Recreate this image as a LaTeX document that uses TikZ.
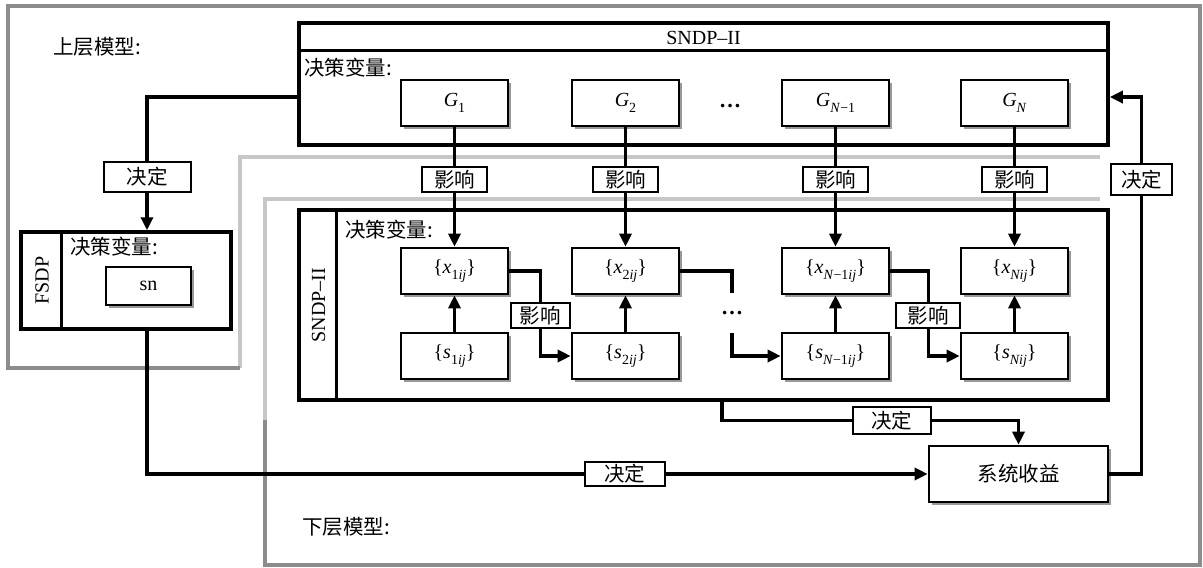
\documentclass[tikz,border=0pt]{standalone}
\usepackage{fontspec}
\setmainfont{Liberation Serif}
\newfontfamily\cjk{Noto Sans CJK SC}
\usetikzlibrary{arrows.meta,shadows}
\newcommand\myfs{\fontsize{20.5}{23}\selectfont}
\newcommand\mylat{\fontsize{20}{23}\selectfont}
\newcommand\mysub[1]{\raisebox{-0.3em}{\fontsize{14}{14}\selectfont #1}}
\begin{document}
\begin{tikzpicture}[x=1pt,y=-1pt,
  frame/.style={draw=black, line width=3.5pt, inner sep=0pt},
  inbox/.style={draw=black, line width=2.6pt, fill=white, inner sep=0pt,
    minimum width=107pt, minimum height=46pt, font=\mylat,
    drop shadow={shadow xshift=3pt,shadow yshift=-3pt,fill=black,opacity=0.4}},
  lbl/.style={draw=black, line width=2pt, fill=white, inner xsep=7pt, inner ysep=2pt,
    minimum width=65pt, minimum height=25pt, font=\cjk\myfs},
  txt/.style={font=\cjk\myfs, inner sep=0pt},
  dotsty/.style={font=\fontsize{22}{24}\selectfont\bfseries, inner sep=0pt},
  conn/.style={line width=3.3pt},
  arr/.style={line width=3.3pt, -{Triangle[length=13pt,width=12pt]}},
  gout/.style={draw=black!45, line width=4pt},
  gin/.style={draw=black!22, line width=4pt}
]
\useasboundingbox (0,0) rectangle (1203,568);

% gray model frames
\draw[gin] (240,368) -- (240,157) -- (1100,157);
\draw[gin] (265,420) -- (265,199) -- (1100,199);
\draw[gout] (240,368) -- (8,368) -- (8,6) -- (1200,6) -- (1200,565) -- (265,565) -- (265,420);

\node[txt, anchor=west] (upper) at (53,47) {上层模型:};
\node[txt, anchor=west] (lower) at (302,527) {下层模型:};

% top SNDP-II box
\node[frame, minimum width=809pt, minimum height=122pt] (top) at (703.5,84) {};
\draw[line width=3.5pt] ([yshift=-29pt]top.north west) -- ([yshift=-29pt]top.north east);
\node[font=\mylat] (toptitle) at (703.5,38) {SNDP–II};
\node[txt, anchor=west] (topvar) at (304,68) {决策变量:};

% lower SNDP-II box
\node[frame, minimum width=809pt, minimum height=190pt] (low) at (703.5,305) {};
\draw[line width=3.5pt] ([xshift=39pt]low.north west) -- ([xshift=39pt]low.south west);
\node[rotate=90, font=\mylat] (lowtitle) at (318.5,305) {SNDP–II};
\node[txt, anchor=west] (lowvar) at (345,230) {决策变量:};

% FSDP box
\node[frame, minimum width=210pt, minimum height=97pt] (fsdp) at (126,280.5) {};
\draw[line width=3.5pt] ([xshift=42pt]fsdp.north west) -- ([xshift=42pt]fsdp.south west);
\node[rotate=90, font=\mylat] (fsdptitle) at (42,280.5) {FSDP};
\node[txt, anchor=west] (fsdpvar) at (70,247) {决策变量:};
\node[inbox, minimum width=85pt, minimum height=38pt] (sn) at (148.5,286) {sn};

% G boxes
\node[inbox] (G1) at (454.5,103) {\textit{G}\mysub{1}};
\node[inbox] (G2) at (625.5,103) {\textit{G}\mysub{2}};
\node[dotsty] (gdots) at (730,106) {…};
\node[inbox] (GN1) at (835.5,103) {\textit{G}\mysub{\textit{N}−1}};
\node[inbox] (GN) at (1014.5,103) {\textit{G}\mysub{\textit{N}}};

% x boxes
\node[inbox] (x1) at (454.5,271) {\{\textit{x}\mysub{1\textit{ij}}\}};
\node[inbox] (x2) at (625.5,271) {\{\textit{x}\mysub{2\textit{ij}}\}};
\node[inbox] (xN1) at (835.5,271) {\{\textit{x}\mysub{\textit{N}−1\textit{ij}}\}};
\node[inbox] (xN) at (1014.5,271) {\{\textit{x}\mysub{\textit{Nij}}\}};

% s boxes
\node[inbox] (s1) at (454.5,356) {\{\textit{s}\mysub{1\textit{ij}}\}};
\node[inbox] (s2) at (625.5,356) {\{\textit{s}\mysub{2\textit{ij}}\}};
\node[inbox] (sN1) at (835.5,356) {\{\textit{s}\mysub{\textit{N}−1\textit{ij}}\}};
\node[inbox] (sN) at (1014.5,356) {\{\textit{s}\mysub{\textit{Nij}}\}};

% system gain
\node[inbox, minimum width=179pt, minimum height=56pt, font=\cjk\myfs] (sys) at (1018.5,474) {系统收益};

% G -> x
\foreach \a/\b in {G1/x1, G2/x2, GN1/xN1, GN/xN}
  \draw[arr] (\a) -- node[lbl, pos=0.44] {影响} (\b);

% s -> x
\foreach \a/\b in {s1/x1, s2/x2, sN1/xN1, sN/xN}
  \draw[arr] (\a) -- (\b);

% chains
\draw[arr] (x1.east) -- ++(31,0) |- node[lbl, pos=0.26, minimum width=59pt] {影响} (s2.west);
\node[dotsty, minimum height=40pt] (dots2) at (732,313) {…};
\draw[conn] (x2.east) -| (dots2.north);
\draw[arr] (dots2.south) |- (sN1.west);
\draw[arr] (xN1.east) -- ++(38,0) |- node[lbl, pos=0.26, minimum width=64pt] {影响} (sN.west);

% decisions
\draw[arr] ([yshift=-13pt]top.west) -| node[lbl, pos=0.80, minimum width=87pt, minimum height=30pt] {决定} ([xshift=21pt]fsdp.north);
\draw[arr] ([xshift=21pt]fsdp.south) |- node[lbl, pos=0.806, minimum width=80pt, minimum height=24pt] {决定} (sys.west);
\draw[arr] ([xshift=18.5pt]low.south) |- node[lbl, pos=0.786, minimum width=78pt, minimum height=27pt] {决定} ([yshift=24pt]sys.north) -- (sys.north);
\draw[arr] (sys.east) -| node[lbl, pos=0.89, minimum width=61pt, minimum height=31pt] {决定} ([xshift=32pt,yshift=-13pt]top.east) -- ([yshift=-13pt]top.east);
\end{tikzpicture}
\end{document}
